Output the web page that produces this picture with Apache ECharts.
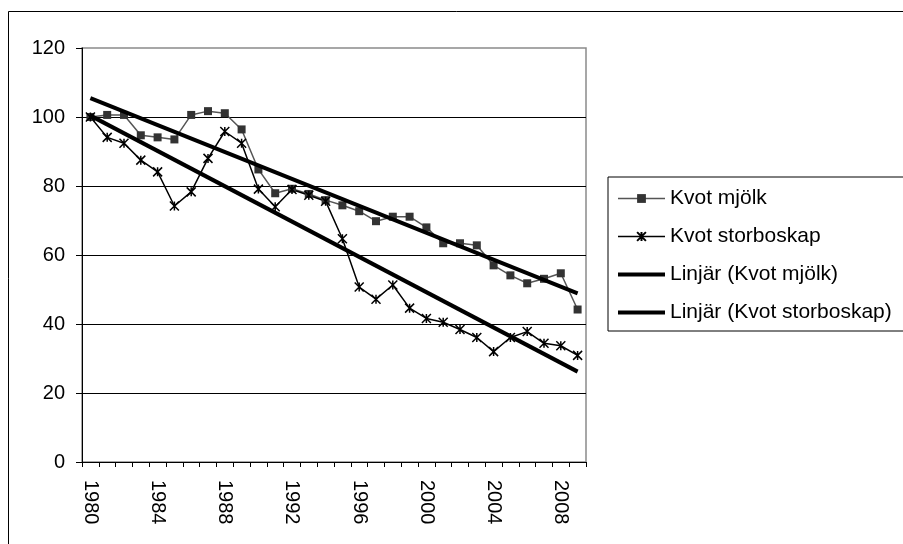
<!DOCTYPE html>
<html>
<head>
<meta charset="utf-8">
<script src="https://cdn.jsdelivr.net/npm/echarts@6/dist/echarts.min.js"></script>
<style>
  html, body { margin: 0; padding: 0; background: #fff; }
  #chart { width: 903px; height: 544px; }
</style>
</head>
<body>
<div id="chart"></div>
<script>
// årtal på x-axeln
var years = ['1980', '1981', '1982', '1983', '1984', '1985', '1986', '1987', '1988', '1989',
  '1990', '1991', '1992', '1993', '1994', '1995', '1996', '1997', '1998', '1999',
  '2000', '2001', '2002', '2003', '2004', '2005', '2006', '2007', '2008', '2009']

var kvotMjolk = [100, 100.6, 100.6, 94.7, 94.1, 93.5, 100.6, 101.7, 101.1, 96.4,
  84.8, 77.9, 79.2, 77.7, 75.9, 74.4, 72.7, 69.8, 71.1, 71.1,
  68.0, 63.4, 63.4, 62.8, 57.0, 54.1, 51.8, 53.1, 54.7, 44.2]

var kvotStorboskap = [100, 94.1, 92.4, 87.5, 84.1, 74.2, 78.3, 88.0, 95.8, 92.4,
  79.1, 74.0, 79.0, 77.3, 75.6, 64.7, 50.7, 47.2, 51.3, 44.6,
  41.6, 40.5, 38.4, 36.1, 32.0, 36.1, 37.8, 34.4, 33.7, 30.9]

// trendlinjer, start- och slutvärde
var trendMjolk = [105.5, 48.9]
var trendStorboskap = [100.4, 26.2]

var yTicks = [0, 20, 40, 60, 80, 100, 120]

var font = '"Liberation Sans", Arial, sans-serif'
var starPath = 'path://M0,0L10,10M10,0L0,10M5,0L5,10'

function trendData(ends) {
  return [[years[0], ends[0]], [years[years.length - 1], ends[1]]]
}

// ingen markör i förklaringen för trendlinjerna
var noMarker = { color: 'rgba(0,0,0,0)', borderColor: 'rgba(0,0,0,0)', borderWidth: 0, opacity: 0 }

var chart = echarts.init(document.getElementById('chart'), null, { renderer: 'canvas' })

chart.setOption({
  animation: false,
  backgroundColor: '#fff',
  textStyle: { fontFamily: font, color: '#000' },
  graphic: [{
    type: 'rect',
    shape: { x: 8.5, y: 11.5, width: 1000, height: 1000 },
    style: { fill: 'none', stroke: '#000', lineWidth: 1 },
    silent: true,
    z: -1
  }],
  grid: {
    left: 82,
    top: 48,
    right: 317,
    bottom: 82,
    show: true,
    borderColor: '#8a8a8a',
    borderWidth: 1.5,
    backgroundColor: 'transparent'
  },
  legend: {
    orient: 'vertical',
    left: 608,
    top: 177,
    padding: [11, 14, 8, 8],
    itemWidth: 47,
    itemHeight: 11,
    itemGap: 17,
    borderColor: '#000',
    borderWidth: 1,
    borderRadius: 0,
    textStyle: { fontFamily: font, fontSize: 21, color: '#000' },
    data: [
      { name: 'Kvot mjölk', lineStyle: { width: 1.5 } },
      { name: 'Kvot storboskap', lineStyle: { width: 1.5 } },
      { name: 'Linjär (Kvot mjölk)', lineStyle: { width: 4 }, itemStyle: noMarker },
      { name: 'Linjär (Kvot storboskap)', lineStyle: { width: 4 }, itemStyle: noMarker }
    ]
  },
  xAxis: {
    type: 'category',
    data: years,
    boundaryGap: true,
    axisLine: { lineStyle: { color: '#000', width: 1 } },
    axisTick: { show: true, interval: 0, length: 5, lineStyle: { color: '#000' } },
    axisLabel: {
      interval: 3,
      rotate: -90,
      margin: 18,
      fontSize: 20,
      fontFamily: font,
      color: '#000'
    },
    splitLine: { show: false }
  },
  yAxis: {
    type: 'value',
    min: yTicks[0],
    max: yTicks[yTicks.length - 1],
    interval: 20,
    axisLine: { show: true, lineStyle: { color: '#000', width: 1 } },
    axisTick: { show: true, length: 6, lineStyle: { color: '#000' } },
    axisLabel: { margin: 17, fontSize: 20, fontFamily: font, color: '#000' },
    splitLine: { show: true, showMaxLine: false, lineStyle: { color: '#000', width: 1 } }
  },
  series: [
    {
      name: 'Kvot mjölk',
      type: 'line',
      data: kvotMjolk,
      symbol: 'rect',
      symbolSize: 8,
      itemStyle: { color: '#333' },
      lineStyle: { color: '#555', width: 1.5 },
      z: 3
    },
    {
      name: 'Kvot storboskap',
      type: 'line',
      data: kvotStorboskap,
      symbol: starPath,
      symbolSize: 9,
      itemStyle: { color: '#000', borderColor: '#000', borderWidth: 1.5 },
      lineStyle: { color: '#000', width: 1.5 },
      z: 3
    },
    {
      name: 'Linjär (Kvot mjölk)',
      type: 'line',
      data: trendData(trendMjolk),
      showSymbol: false,
      symbol: 'none',
      itemStyle: { color: '#000' },
      lineStyle: { color: '#000', width: 4 },
      z: 4
    },
    {
      name: 'Linjär (Kvot storboskap)',
      type: 'line',
      data: trendData(trendStorboskap),
      showSymbol: false,
      symbol: 'none',
      itemStyle: { color: '#000' },
      lineStyle: { color: '#000', width: 4 },
      z: 4
    }
  ]
})
</script>
</body>
</html>
